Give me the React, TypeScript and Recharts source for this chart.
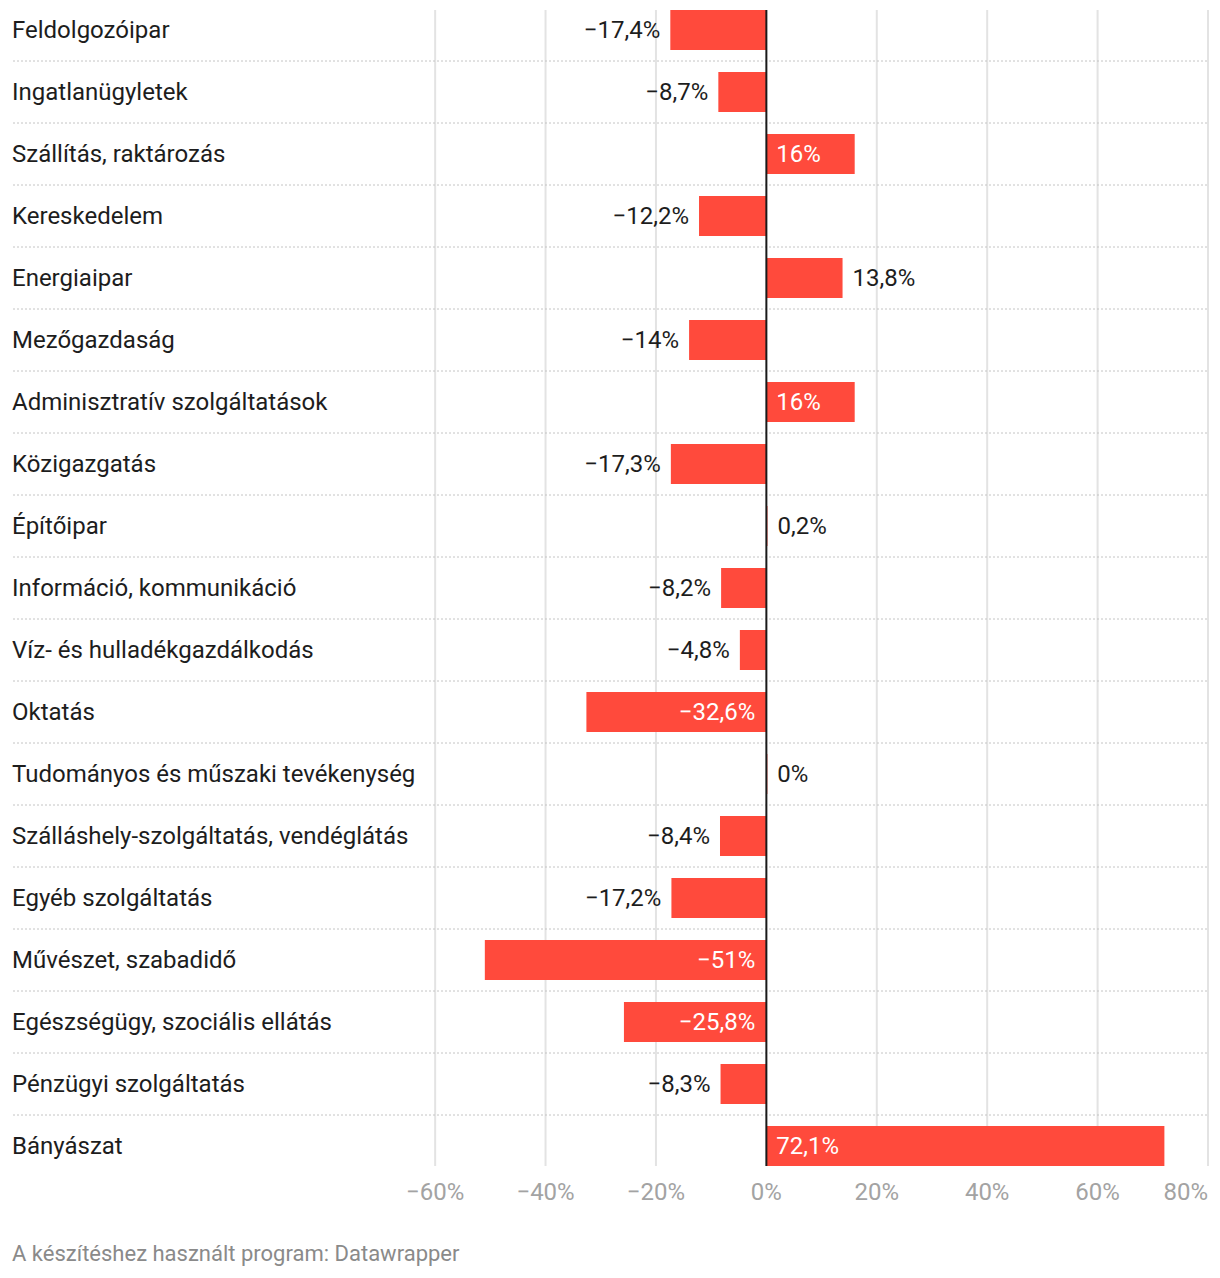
import React from "react";
import {
  BarChart,
  Bar,
  XAxis,
  YAxis,
  CartesianGrid,
  ReferenceLine,
  LabelList
} from "recharts";

const categories = [
  "Feldolgozóipar",
  "Ingatlanügyletek",
  "Szállítás, raktározás",
  "Kereskedelem",
  "Energiaipar",
  "Mezőgazdaság",
  "Adminisztratív szolgáltatások",
  "Közigazgatás",
  "Építőipar",
  "Információ, kommunikáció",
  "Víz- és hulladékgazdálkodás",
  "Oktatás",
  "Tudományos és műszaki tevékenység",
  "Szálláshely-szolgáltatás, vendéglátás",
  "Egyéb szolgáltatás",
  "Művészet, szabadidő",
  "Egészségügy, szociális ellátás",
  "Pénzügyi szolgáltatás",
  "Bányászat"
];

const values = [
  -17.4, -8.7, 16, -12.2, 13.8, -14, 16, -17.3, 0.2, -8.2, -4.8, -32.6, 0, -8.4,
  -17.2, -51, -25.8, -8.3, 72.1
];

const xTicks = [-60, -40, -20, 0, 20, 40, 60, 80];

const footer = "A készítéshez használt program: Datawrapper";

const data = categories.map((name, i) => ({ name, value: values[i] }));

// layout
const W = 1220;
const ROW = 62;
const BAR = 40;
const PAD = (ROW - BAR) / 2;
const LEFT = 12;
const RIGHT = 12;
const TOP = 10;
const ZERO_X = 766;
const PLOT_H = ROW * categories.length - 2 * PAD;
const AXIS_H = 40;
const H = TOP + PLOT_H + AXIS_H;
const FONT = "Roboto, 'Noto Sans', sans-serif";
const RED = "#ff4a3c";
const FS = 24;

const xMax = xTicks[xTicks.length - 1];
const plotRight = W - RIGHT;
const xMin = (-xMax * (ZERO_X - LEFT)) / (plotRight - ZERO_X);

const fmt = (v: number) =>
  (v < 0 ? "\u2212" : "") + String(Math.abs(v)).replace(".", ",") + "%";

// rough Roboto advance widths (em)
const charW = (c: string) => {
  if (c >= "0" && c <= "9") return 0.5615;
  if (c === ",") return 0.197;
  if (c === "%") return 0.732;
  if (c === "\u2212") return 0.57;
  return 0.55;
};
const textWidth = (s: string) =>
  s.split("").reduce((a, c) => a + charW(c), 0) * FS;

const ValueLabel = (props: any) => {
  const vb = props.viewBox || {};
  const x = Number(props.x ?? vb.x);
  const y = Number(props.y ?? vb.y);
  const width = Number(props.width ?? vb.width ?? 0);
  const height = Number(props.height ?? vb.height ?? BAR);
  const v = Number(props.value);
  const left = Math.min(x, x + width);
  const right = Math.max(x, x + width);
  const w = right - left;
  const text = fmt(v);
  const inside = w >= textWidth(text) + 30;
  const cy = y + height / 2;
  let tx: number;
  let anchor: "start" | "end";
  if (v < 0) {
    anchor = "end";
    tx = inside ? right - 11 : left - 10;
  } else {
    anchor = "start";
    tx = inside ? left + 10 : right + 10;
  }
  return (
    <text
      x={tx}
      y={cy}
      textAnchor={anchor}
      dominantBaseline="central"
      fill={inside ? "#ffffff" : "#1d1d1d"}
      fontSize={FS}
      fontFamily={FONT}
    >
      {text}
    </text>
  );
};

const CategoryTick = (props: any) => {
  const { y, payload } = props;
  return (
    <text
      x={LEFT}
      y={y}
      textAnchor="start"
      dominantBaseline="central"
      fill="#1d1d1d"
      fontSize={FS}
      fontFamily={FONT}
    >
      {payload.value}
    </text>
  );
};

const XTick = (props: any) => {
  const { x, y, payload } = props;
  const v = Number(payload.value);
  const last = v === xMax;
  return (
    <text
      x={x}
      y={y + 26}
      textAnchor={last ? "end" : "middle"}
      dominantBaseline="central"
      fill="#a3a3a3"
      fontSize={FS}
      fontFamily={FONT}
    >
      {fmt(v)}
    </text>
  );
};

export default function App() {
  const gridTicks = xTicks.filter((t) => t !== 0);
  return (
    <div style={{ margin: "-8px 0 0 -8px", width: W }}>
      <BarChart
        width={W}
        height={H}
        data={data}
        layout="vertical"
        margin={{ top: TOP, right: RIGHT, bottom: 0, left: LEFT }}
        barSize={BAR}
      >
        <CartesianGrid
          horizontal={false}
          vertical
          verticalValues={gridTicks}
          stroke="#e3e3e3"
          strokeWidth={2}
        />
        <XAxis
          type="number"
          domain={[xMin, xMax]}
          ticks={xTicks}
          allowDataOverflow
          axisLine={false}
          tickLine={false}
          tickSize={0}
          tickMargin={0}
          height={AXIS_H}
          tick={<XTick />}
          interval={0}
        />
        <YAxis
          type="category"
          dataKey="name"
          width={1}
          padding={{ top: -PAD, bottom: -PAD }}
          axisLine={false}
          tickLine={false}
          tickSize={0}
          tickMargin={0}
          tick={<CategoryTick />}
          interval={0}
        />
        {categories.slice(1).map((c) => (
          <ReferenceLine
            key={"h" + c}
            y={c}
            position="start"
            stroke="#c4c4c4"
            strokeWidth={1}
            strokeDasharray="2 2"
          />
        ))}
        <Bar
          dataKey="value"
          fill={RED}
          minPointSize={1}
          isAnimationActive={false}
        >
          <LabelList dataKey="value" content={<ValueLabel />} />
        </Bar>
        <ReferenceLine x={0} stroke="#1a1a1a" strokeWidth={2} />
      </BarChart>
      <div
        style={{
          marginTop: 36,
          paddingLeft: LEFT,
          fontFamily: FONT,
          fontSize: 22,
          lineHeight: "24px",
          color: "#8a8a8a"
        }}
      >
        {footer}
      </div>
    </div>
  );
}
